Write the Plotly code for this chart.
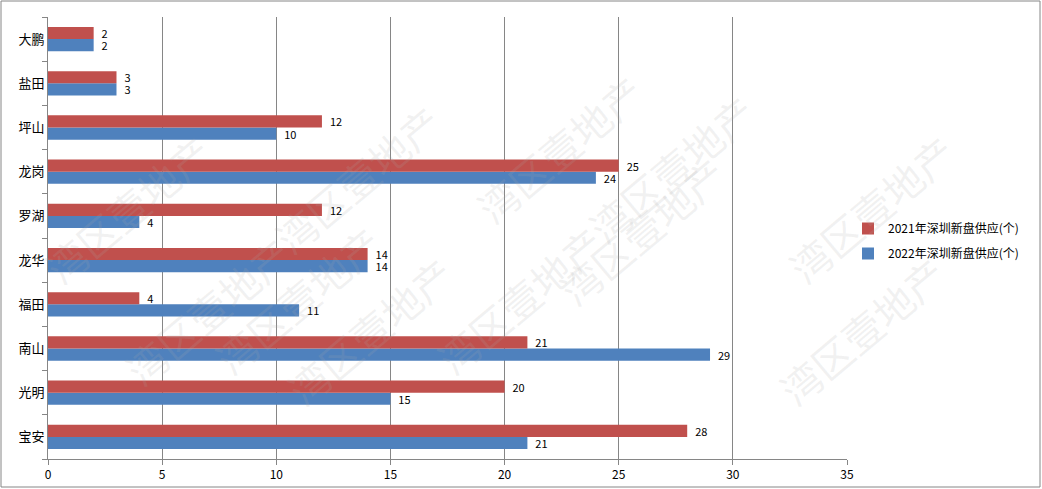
import plotly.graph_objects as go

categories = ["宝安", "光明", "南山", "福田", "龙华", "罗湖", "龙岗", "坪山", "盐田", "大鹏"]
supply_2021 = [28, 20, 21, 4, 14, 12, 25, 12, 3, 2]
supply_2022 = [21, 15, 29, 11, 14, 4, 24, 10, 3, 2]
name_2021 = "2021年深圳新盘供应(个)"
name_2022 = "2022年深圳新盘供应(个)"
x_ticks = [0, 5, 10, 15, 20, 25, 30, 35]

FONT = "Noto Sans CJK SC, Noto Sans, sans-serif"
L, R, T, B = 48, 195, 17, 30
W, H = 1042, 489
PW, PH = W - L - R, H - T - B

fig = go.Figure()
fig.add_trace(go.Bar(
    y=categories, x=supply_2022, name=name_2022, orientation="h",
    legendgroup="b", legendrank=2,
    marker=dict(color="#4f81bd", line=dict(width=0)),
    text=supply_2022, texttemplate="\u00a0\u00a0%{x}",
    textposition="outside", cliponaxis=False, constraintext="none",
    textfont=dict(size=11, color="#000000", family=FONT),
))
fig.add_trace(go.Bar(
    y=categories, x=supply_2021, name=name_2021, orientation="h",
    legendgroup="a", legendrank=1,
    marker=dict(color="#c0504d", line=dict(width=0)),
    text=supply_2021, texttemplate="\u00a0\u00a0%{x}",
    textposition="outside", cliponaxis=False, constraintext="none",
    textfont=dict(size=11, color="#000000", family=FONT),
))

# watermark
wm = [(110, 400), (260, 90), (200, 300), (370, 420), (520, 300), (560, 60),
      (770, 80), (740, 320), (970, 120), (960, 420), (30, 120)]
for px, py in wm:
    fig.add_annotation(
        x=(px - L) / PW, y=(H - B - py) / PH, xref="paper", yref="paper",
        text="湾区壹地产", showarrow=False, textangle=-40,
        font=dict(size=40, color="rgba(170,170,170,0.16)", family=FONT),
    )

# outer border
fig.add_shape(type="rect", xref="paper", yref="paper",
              x0=(1 - L) / PW, x1=(W - 2 - L) / PW,
              y0=(H - B - (H - 2)) / PH, y1=(H - B - 1) / PH,
              line=dict(color="#868686", width=1), layer="below")

fig.update_layout(
    width=W, height=H,
    margin=dict(l=L, r=R, t=T, b=B, autoexpand=False),
    barmode="group", bargap=0.45, bargroupgap=0,
    plot_bgcolor="white", paper_bgcolor="white",
    font=dict(family=FONT, size=12, color="#000000"),
    showlegend=True,
    legend=dict(
        x=(848 - L) / PW, y=(H - B - 241) / PH, xanchor="left", yanchor="middle",
        traceorder="grouped", font=dict(size=12, family=FONT),
        itemwidth=30, tracegroupgap=6, bgcolor="rgba(0,0,0,0)",
    ),
    xaxis=dict(
        range=[0, 35], tickvals=x_ticks, showgrid=True, gridcolor="#868686",
        gridwidth=1, showline=True, linecolor="#868686", ticks="outside",
        ticklen=5, tickcolor="#868686", zeroline=False, automargin=False,
        tickfont=dict(size=12, family=FONT),
    ),
    yaxis=dict(
        categoryorder="array", categoryarray=categories,
        showline=True, linecolor="#868686", ticks="outside", ticklen=5,
        tickcolor="#868686", tickson="boundaries", showgrid=False,
        automargin=False, tickfont=dict(size=13, family=FONT),
    ),
)

fig.write_html("out.html", config={"displayModeBar": False},
               post_script="document.body.style.margin='0';")
